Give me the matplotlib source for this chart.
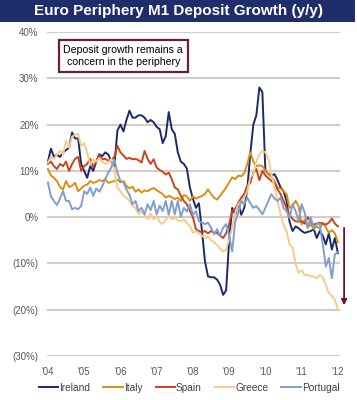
import numpy
from matplotlib import pyplot

years = ["'04", "'05", "'06", "'07", "'08", "'09", "'10", "'11", "'12"]
countries = ['Ireland', 'Italy', 'Spain', 'Greece', 'Portugal']
colors = ['#1B2A6B', '#D98E14', '#C8431E', '#F6CB8C', '#809FCF']

# monthly y/y growth in %, Jan 2004 .. Jan 2012
ireland = [12, 14.8, 13, 13.5, 13, 14, 14.5, 15, 18.3, 17, 17, 11.5, 10, 8.5, 11, 10, 12,
           13.6, 13.2, 14, 13.5, 12, 11, 18.7, 20, 18.5, 21, 23, 21.5, 21.5, 22, 22, 21.5,
           20.5, 21, 20.5, 19.5, 19, 16, 17.5, 22.7, 19, 18, 14, 12, 11.5, 10.5, 6.4, 4, 2,
           3, -3, -9.6, -12.8, -13, -13, -13.5, -14.6, -16.8, -15.8, -5, 2, 0.6, 3, 0.5, 2,
           6, 13.7, 20, 22, 28, 27, 10, 9.3, 9, 9.3, 8, 6.5, 5.6, 3.5, -1, -3, -2, -2.4, -3,
           -3.4, -3.2, -3, -2.6, -4.5, -3, -4, -5.9, -3.5, -7, -4.5, -7.8]
italy = [10.4, 9, 8.5, 7.8, 6.5, 6, 7.8, 6.5, 6.8, 7.4, 5.6, 6.2, 6.8, 7, 7.8, 7.4, 7.6,
         8, 7.8, 8.2, 7.4, 7.6, 7.8, 8.1, 7.5, 7.8, 6.7, 6.2, 6.6, 5.5, 6, 5.3, 5.8, 5.6, 6,
         6.3, 5.8, 5.4, 5, 4.2, 4.6, 4.3, 3.9, 4.2, 3.5, 4.8, 4.5, 3.5, 4.5, 4, 4.3, 4.6, 5,
         6, 5, 4.2, 3.8, 4.6, 5.5, 6.4, 7.5, 8.6, 8.2, 9, 8.8, 9.5, 11.5, 14, 12, 11, 11.2,
         11, 10, 9.3, 8.7, 7.8, 6.4, 6.2, 5.6, 5, 2, 2.5, 3.5, 2.4, -1.6, -0.5, -2.3, -1.5,
         -2.6, -2, -2.5, -1.2, -2.2, -3.4, -2.8, -3.5, -5.4]
spain = [11.5, 12, 11, 10.4, 11.5, 11, 12, 10, 11.5, 12.6, 13, 10, 11, 11.5, 12.6, 10.8,
         12, 13.4, 12.5, 12.6, 12.2, 12.4, 13, 15.4, 14, 13.3, 12.6, 12.8, 12.5, 12.6, 12.3,
         11.8, 14.3, 12.6, 11.5, 12.5, 10.7, 10.2, 9.8, 9.2, 9.6, 8.2, 6.4, 6, 4.6, 3.5, 2.8,
         1.3, 0, -2.6, -3, -3.3, -3, -3.5, -3, -3.4, -3.4, -4, -4.5, -3.5, -1.5, 1.3, 1.8, 3,
         4.2, 5, 6.8, 7.4, 9.6, 10.4, 8, 10, 9, 8.4, 7.8, 7.4, 6, 5, 3.5, 2, 0.5, -0.4, -0.9,
         -1, -0.9, -1.4, 0, -1, -1.6, -1.4, -1.2, -1.4, -1.6, -1.2, -0.3, -1.4, -2]
greece = [11.8, 13, 12.6, 13.5, 14.3, 13.5, 16.5, 15, 17.4, 17.8, 18, 15.4, 16, 14, 11.4,
          12.5, 12, 12.8, 12, 11.5, 11.8, 12.6, 10, 6.4, 5.6, 4.6, 4.2, 3.5, 2.4, 2, 0.6,
          1.2, 0.5, -0.4, 0.8, -0.5, 0.2, -1, -1.5, -0.5, 0.2, -0.5, 0, -0.8, -0.9, -0.5,
          -1.2, -2, -3.4, -3, -3.5, -4, -4.5, -4.2, -5, -5.4, -6, -6.8, -7.4, -7, -4.8, -2.3,
          0.9, 2.8, 3.5, 4.2, 5.6, 8.6, 9.3, 12, 13.6, 14.3, 14, 12.7, 9.3, 6.5, 3.5, 0.6,
          -1.6, -3, -5.9, -6.5, -10.2, -12, -11.5, -12.5, -12.5, -12.8, -12.8, -13.2, -12.5,
          -13, -14.6, -16.4, -17, -17.9, -20]
portugal = [7.5, 4.5, 3.5, 2.6, 4, 5.6, 3.5, 3.5, 1.7, 2, 1.7, 2.4, 5.6, 5, 6.4, 4.6, 6.2,
            5.5, 6.7, 8.2, 9.6, 10.8, 12.4, 9.6, 7.8, 7.5, 6, 4.8, 2.8, 3.5, 1.3, 2, 0.6,
            2.8, 1.5, 3.5, 0.6, 2.5, 1.3, 3.5, 0.5, 3.5, 0.6, 3.5, 0, 2, 1.2, 2.8, 0.5, 1.3,
            -0.9, -1.2, -1.5, -1.2, -2.3, -3.7, -2.6, -4, -2.3, -1.5, -4, -7.4, -1, 0.9, 3.5,
            2.8, 4.2, 3, 2, 2.4, 1.6, 0.6, 2, 3.5, 5, 4, 3.5, 4.2, 2, 1.3, -0.2, 2.8, 1.3,
            -0.9, 2.8, 1, -2.3, 0, -2.3, -1.5, -1.4, -5.9, -10.7, -8.8, -13.2, -8, -7.6]

y_ticks = [40, 30, 20, 10, 0, -10, -20, -30]
y_labels = ['40%', '30%', '20%', '10%', '0%', '(10%)', '(20%)', '(30%)']

pyplot.rcParams['font.family'] = ['Liberation Sans', 'DejaVu Sans']
fig = pyplot.figure(figsize=(3.57, 4.0), dpi=100)

# title banner
fig.patches.append(pyplot.Rectangle((0, 0.946), 0.994, 0.054, transform=fig.transFigure,
                                    facecolor='#1F2D6B', edgecolor='none'))
fig.text(0.5, 0.972, 'Euro Periphery M1 Deposit Growth (y/y)', color='white',
         fontsize=11, fontweight='bold', ha='center', va='center')

ax = fig.add_axes([0.1317, 0.11, 0.8207, 0.81])
for name, series, c in zip(countries, [ireland, italy, spain, greece, portugal], colors):
  ax.plot(numpy.arange(len(series)), series, color=c, lw=1.4, label=name)

ax.set_ylim(-30, 40)
ax.set_xlim(-0.3, 96.7)
ax.set_yticks(y_ticks)
ax.set_yticklabels(y_labels)
ax.set_xticks(numpy.arange(0, 97, 12))
ax.set_xticklabels(years)
ax.grid(axis='y', color='#D2CEC3', lw=1.5)
ax.set_axisbelow(True)
for s in ax.spines.values():
  s.set_visible(False)
ax.tick_params(length=0, labelsize=7, colors='#595959', pad=6)
ax.tick_params(axis='x', pad=8)

ax.text(0.26, 0.926, 'Deposit growth remains a\nconcern in the periphery', transform=ax.transAxes,
        ha='center', va='center', fontsize=7.6, linespacing=1.3,
        bbox=dict(boxstyle='square,pad=0.45', facecolor='white', edgecolor='#6B1E3A', lw=1.6))

ax.annotate('', xy=(1.014, 0.148), xytext=(1.014, 0.404), xycoords='axes fraction',
            arrowprops=dict(arrowstyle='-|>', color='#6B1136', lw=1.3, mutation_scale=8),
            annotation_clip=False)

fig.legend(loc='center', bbox_to_anchor=(0.53, 0.03), ncol=5, frameon=False, fontsize=7.3,
           handlelength=1.9, handletextpad=0.1, columnspacing=1.3, labelcolor='#404040')

fig.savefig('out.png', dpi=100)
